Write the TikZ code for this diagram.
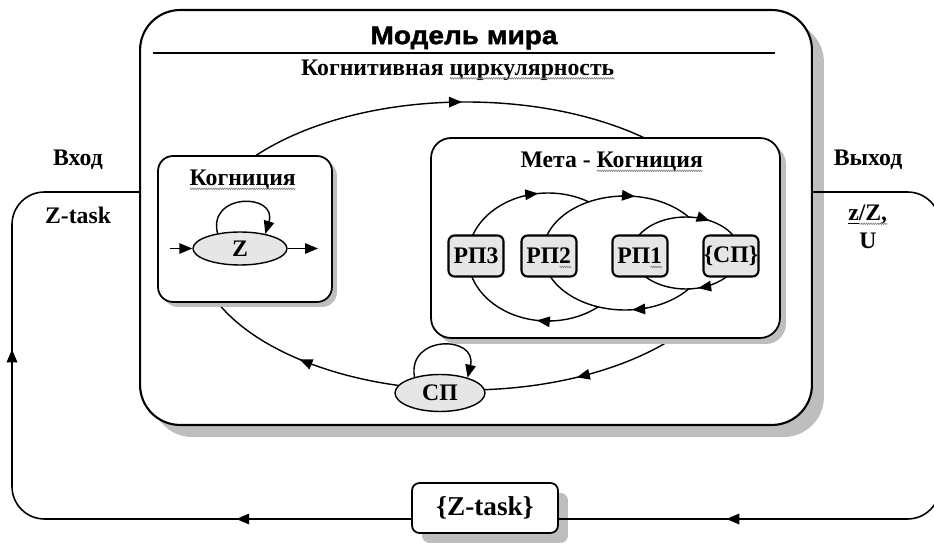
\documentclass[tikz,border=0pt]{standalone}
\usepackage{fontspec}
\setmainfont{Liberation Serif}
\newfontfamily\titlefont[FakeStretch=1.1, BoldFeatures={FakeBold=1.6}]{Liberation Sans}
\usetikzlibrary{arrows.meta,shadows,shapes.geometric,decorations.markings,decorations.pathmorphing}
\definecolor{shade}{HTML}{E6E6E6}
\definecolor{shadowgray}{HTML}{BEBEBE}
\newsavebox\spellbox
\newcommand\spell[1]{\sbox\spellbox{#1}\rlap{\usebox\spellbox}\raisebox{-2.4pt}[0pt][0pt]{\tikz\draw[sharp corners, gray, line width=0.35pt, decorate, decoration={zigzag, amplitude=0.45pt, segment length=1.3pt}] (0pt,0pt) -- (\wd\spellbox,0pt);}}

\tikzset{
  head/.tip={Triangle[length=2.6mm,width=2.1mm]},
  lbl/.style={font=\bfseries\fontsize{13.5}{16}\selectfont},
  title/.style={font=\titlefont\bfseries\fontsize{14.5}{17}\selectfont},
  box/.style={draw, line width=1pt, fill=white, rounded corners=0.3cm},
  shadowed/.style={general shadow={fill=shadowgray, shadow xshift=#1, shadow yshift=-#1}},
  oval/.style={draw, ellipse, fill=shade, line width=0.8pt, inner sep=0pt, lbl},
  rp/.style={draw, fill=shade, line width=1.2pt, rounded corners=0.12cm, minimum width=1.1cm, minimum height=0.82cm, inner sep=0pt, lbl},
  ring/.style={line width=0.8pt},
  arr/.style={line width=0.8pt, -head}
}

\begin{document}
\begin{tikzpicture}[x=0.02cm, y=0.02cm]
\useasboundingbox (0,0) rectangle (934,545);

% world model
\node[box, shadowed=0.24cm, line width=1.2pt, rounded corners=0.8cm, minimum width=13.44cm, minimum height=8.3cm] (world) at (476,327.5) {};
\node[title] (title) at (464,507) {Модель мира};
\draw[line width=1pt] (153,492) -- (775,492);
\node[lbl] (circ) at (458,475) {Когнитивная \spell{циркулярность}};

% cognitive circle
\draw[ring, postaction=decorate, decoration={markings,
  mark=at position .253 with {\arrowreversed{head}},
  mark=at position .622 with {\arrowreversed{head}},
  mark=at position .834 with {\arrowreversed{head}}}]
  (466,299) ellipse [x radius=270, y radius=144];

% cognition
\node[box, shadowed=0.1cm, minimum width=3.48cm, minimum height=2.92cm] (cog) at (245,316) {};
\node[lbl] (cogT) at (243,365) {\spell{Когниция}};
\node[oval, minimum width=1.88cm, minimum height=0.66cm] (z) at (240,296.5) {Z};
\coordinate (zin) at (170,296.5);
\coordinate (zout) at (318,296.5);
\draw[arr] (zin) -- (z);
\draw[arr] (z) -- (zout);
\draw[arr] (z.146) .. controls +(-0.2cm,0.82cm) and +(0.25cm,0.82cm) .. (z.30);

% meta-cognition
\node[box, shadowed=0.12cm, rounded corners=0.4cm, minimum width=6.98cm, minimum height=4cm] (meta) at (605.5,307) {};
\node[lbl] (metaT) at (612,383) {Мета - \spell{Когниция}};
\draw[ring, fill=white] (548,288) ellipse [x radius=80, y radius=64];
\draw[arr] (548,288) ++(107:80 and 64) arc[start angle=107, end angle=97, x radius=80, y radius=64];
\draw[arr] (548,288) ++(272:80 and 64) arc[start angle=272, end angle=262, x radius=80, y radius=64];
\draw[ring, fill=white] (625,292) ellipse [x radius=82, y radius=57];
\draw[arr] (625,292) ++(93:82 and 57) arc[start angle=93, end angle=83, x radius=82, y radius=57];
\draw[arr] (625,292) ++(285:82 and 57) arc[start angle=285, end angle=275, x radius=82, y radius=57];
\draw[ring, fill=white] (686,292) ellipse [x radius=54, y radius=36];
\draw[arr] (686,292) ++(76:54 and 36) arc[start angle=76, end angle=64, x radius=54, y radius=36];
\draw[arr] (686,292) ++(295:54 and 36) arc[start angle=295, end angle=283, x radius=54, y radius=36];
\node[rp] (rp3) at (476,289) {РП3};
\node[rp] (rp2) at (549,289) {РП\spell{2}};
\node[rp] (rp1) at (640,289) {РП\spell{1}};
\node[rp] (sps) at (731,289) {\{СП\}};

% SP
\node[oval, minimum width=1.8cm, minimum height=0.74cm] (sp) at (440,152) {СП};
\draw[arr] (sp.148) .. controls +(-0.15cm,0.85cm) and +(0.2cm,0.85cm) .. (sp.29);

% outer loop
\node[box, shadowed=0.2cm, rounded corners=0.15cm, minimum width=2.92cm, minimum height=1cm, lbl, font=\bfseries\fontsize{15.5}{18}\selectfont] (task) at (485,37) {\{Z-task\}};
\coordinate (bl) at (12,26);
\coordinate (tl) at (12,353);
\coordinate (tr) at (940,353);
\coordinate (br) at (940,26);
\draw[line width=0.9pt, rounded corners=0.65cm, postaction=decorate, decoration={markings,
  mark=at position 3.5cm with {\arrow{head}},
  mark=at position 11.1cm with {\arrow{head}}}]
  (task.west |- bl) -- (bl) -- (tl) -- (world.west |- tl);
\draw[line width=0.9pt, rounded corners=0.65cm, postaction=decorate, decoration={markings,
  mark=at position 12.8cm with {\arrow{head}}}]
  (world.east |- tr) -- (tr) -- (br) -- (task.east |- br);

\node[lbl] (inL) at (78,385) {Вход};
\node[lbl] (inV) at (78,330) {Z-task};
\node[lbl] (outL) at (868,385) {Выход};
\node[lbl, align=center] (outV) at (868,318) {\underline{z}\spell{/Z,}\\U};
\end{tikzpicture}
\end{document}
